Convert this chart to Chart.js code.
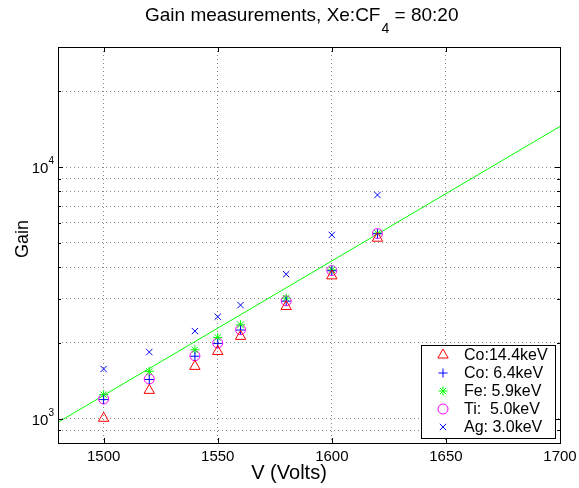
<!DOCTYPE html>
<html>
<head>
<meta charset="utf-8">
<script src="https://cdn.jsdelivr.net/npm/chart.js@4.4.0/dist/chart.umd.min.js"></script>
<style>
  html, body { margin: 0; padding: 0; background: #fff; }
</style>
</head>
<body>
<canvas id="chartArea" width="579" height="488"></canvas>
<script>
// data
const voltages = [1500, 1520, 1540, 1550, 1560, 1580, 1600, 1620];
const co144 = [1003, 1295, 1613, 1849, 2122, 2791, 3694, 5213];
const co64 = [1190, 1430, 1770, 1990, 2250, 2930, 3870, 5430];
const fe59 = [1245, 1541, 1878, 2102, 2360, 3013, 3902, 5457];
const ti50 = [1197, 1437, 1778, 1997, 2256, 2939, 3879, 5438];
const ag30 = [1575, 1839, 2228, 2540, 2826, 3750, 5372, 7742];
const fitX = [1480, 1700];
const fitY = [967, 14500];

const xTicks = [1500, 1550, 1600, 1650, 1700];
const yGrid = [900, 1000, 2000, 3000, 4000, 5000, 6000, 7000, 8000, 9000, 10000, 20000, 30000];
const yMajor = [1000, 10000];
const seriesNames = ['Co:14.4keV', 'Co: 6.4keV', 'Fe: 5.9keV', 'Ti:  5.0keV', 'Ag: 3.0keV'];

const FONT = '"Liberation Sans", Arial, Helvetica, sans-serif';

const pts = (ys) => voltages.map((v, i) => ({ x: v, y: ys[i] }));

const marker = (label, ys, color, style, r) => ({
  label: label,
  data: pts(ys),
  pointStyle: style,
  pointRadius: r,
  pointHoverRadius: r,
  pointBorderColor: color,
  pointBackgroundColor: 'rgba(0,0,0,0)',
  pointBorderWidth: 1,
  showLine: false,
});

const datasets = [
  marker(seriesNames[0], co144, '#ff0000', 'triangle', 6),
  marker(seriesNames[1], co64, '#0000ff', 'cross', 4.5),
  marker(seriesNames[2], fe59, '#00ff00', 'star', 4.5),
  marker(seriesNames[3], ti50, '#ff00ff', 'circle', 5),
  marker(seriesNames[4], ag30, '#0000ff', 'crossRot', 4.5),
  {
    label: 'fit',
    data: fitX.map((x, i) => ({ x: x, y: fitY[i] })),
    showLine: true,
    borderColor: '#00ff00',
    borderWidth: 1,
    pointRadius: 0,
  },
];

// axes box, inward ticks, labels, legend - matlab look
const matlabLook = {
  id: 'matlabLook',
  afterDraw(chart) {
    const ctx = chart.ctx;
    const a = chart.chartArea;
    const xs = chart.scales.x;
    const ys = chart.scales.y;
    ctx.save();

    // box
    ctx.strokeStyle = '#000';
    ctx.lineWidth = 1;
    ctx.strokeRect(Math.round(a.left) + 0.5, Math.round(a.top) + 0.5,
      Math.round(a.right - a.left), Math.round(a.bottom - a.top));

    // inward ticks
    ctx.beginPath();
    xTicks.forEach((v) => {
      const px = Math.round(xs.getPixelForValue(v)) + 0.5;
      ctx.moveTo(px, a.bottom); ctx.lineTo(px, a.bottom - 5);
      ctx.moveTo(px, a.top); ctx.lineTo(px, a.top + 5);
    });
    yGrid.forEach((v) => {
      const py = Math.round(ys.getPixelForValue(v)) + 0.5;
      const len = yMajor.includes(v) ? 5 : 3;
      ctx.moveTo(a.left, py); ctx.lineTo(a.left + len, py);
      ctx.moveTo(a.right, py); ctx.lineTo(a.right - len, py);
    });
    ctx.stroke();

    ctx.fillStyle = '#000';

    // x tick labels
    ctx.font = '15px ' + FONT;
    ctx.textAlign = 'center';
    ctx.textBaseline = 'alphabetic';
    xTicks.forEach((v) => {
      ctx.fillText(String(v), xs.getPixelForValue(v), a.bottom + 18);
    });

    // y tick labels 10^n
    yMajor.forEach((v) => {
      const py = ys.getPixelForValue(v);
      const exp = String(Math.round(Math.log10(v)));
      ctx.font = '10px ' + FONT;
      const ew = ctx.measureText(exp).width;
      ctx.textAlign = 'left';
      ctx.fillText(exp, a.left - 4 - ew, py - 3);
      ctx.font = '15px ' + FONT;
      ctx.textAlign = 'right';
      ctx.fillText('10', a.left - 4 - ew, py + 6);
    });

    // title with subscript
    const t1 = 'Gain measurements, Xe:CF';
    const sub = '4';
    const t2 = ' = 80:20';
    ctx.textAlign = 'left';
    ctx.font = '19px ' + FONT;
    const w1 = ctx.measureText(t1).width;
    let tx = 145;
    ctx.fillText(t1, tx, 21);
    ctx.font = '14px ' + FONT;
    const w2 = ctx.measureText(sub).width;
    ctx.fillText(sub, tx + w1 + 1, 33);
    ctx.font = '19px ' + FONT;
    ctx.fillText(t2, tx + w1 + w2 + 1, 21);

    // axis titles
    ctx.font = '20px ' + FONT;
    ctx.textAlign = 'center';
    ctx.fillText('V (Volts)', 289, 479);
    ctx.save();
    ctx.translate(28, 239);
    ctx.rotate(-Math.PI / 2);
    ctx.font = '18px ' + FONT;
    ctx.fillText('Gain', 0, 0);
    ctx.restore();

    // legend
    const lx = 421, ly = 345, lw = 134, lh = 93;
    ctx.fillStyle = '#fff';
    ctx.fillRect(lx, ly, lw, lh);
    ctx.strokeStyle = '#000';
    ctx.strokeRect(lx + 0.5, ly + 0.5, lw, lh);
    ctx.font = '16px ' + FONT;
    ctx.textAlign = 'left';
    ctx.textBaseline = 'middle';
    for (let i = 0; i < 5; i++) {
      const ds = chart.data.datasets[i];
      const yy = ly + 10 + i * 18;
      ctx.strokeStyle = ds.pointBorderColor;
      ctx.fillStyle = 'rgba(0,0,0,0)';
      ctx.lineWidth = 1;
      Chart.helpers.drawPoint(ctx, {
        pointStyle: ds.pointStyle, radius: ds.pointRadius, rotation: 0, borderWidth: 1,
      }, 443, yy);
      ctx.fillStyle = '#000';
      ctx.fillText(ds.label, 464, yy + 1);
    }
    ctx.restore();
  },
};

const chart = new Chart(document.getElementById('chartArea'), {
  type: 'scatter',
  data: { datasets: datasets },
  options: {
    responsive: false,
    animation: false,
    events: [],
    layout: { padding: { top: 47, right: 19, left: 0, bottom: 0 } },
    plugins: { legend: { display: false }, title: { display: false }, tooltip: { enabled: false } },
    scales: {
      x: {
        type: 'linear',
        min: 1480,
        max: 1700,
        afterBuildTicks: (s) => { s.ticks = xTicks.map((v) => ({ value: v })); },
        afterFit: (s) => { s.height = 45; },
        ticks: { display: false },
        grid: { color: '#888', drawTicks: false, lineWidth: 1 },
        border: { display: false, dash: [1, 3] },
      },
      y: {
        type: 'logarithmic',
        min: 800,
        max: 30000,
        afterBuildTicks: (s) => { s.ticks = yGrid.map((v) => ({ value: v })); },
        afterFit: (s) => { s.width = 58; },
        ticks: { display: false },
        grid: { color: '#888', drawTicks: false, lineWidth: 1 },
        border: { display: false, dash: [1, 3] },
      },
    },
  },
  plugins: [matlabLook],
});
</script>
</body>
</html>
